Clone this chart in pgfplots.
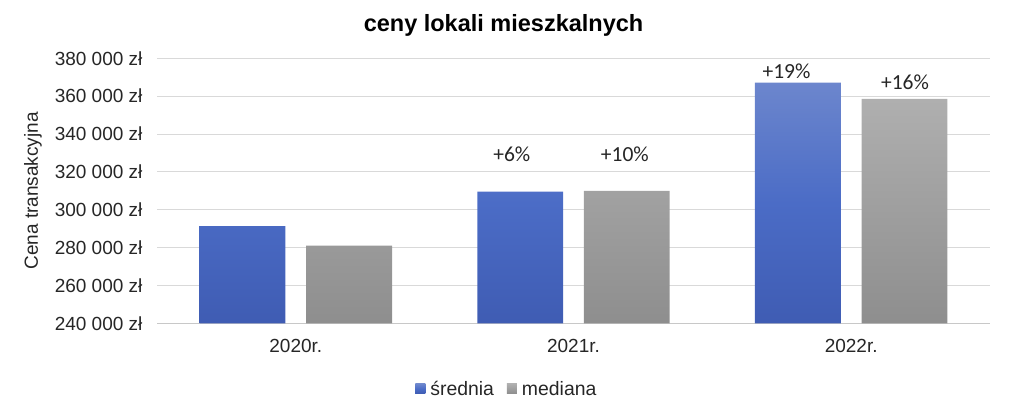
\documentclass[border=0pt]{standalone}
\usepackage{pgfplots}
\pgfplotsset{compat=1.18}
\usepackage{fontspec}
\setmainfont{Liberation Sans}
\newfontfamily\labfont{Carlito}
\definecolor{blueTop}{HTML}{6C86CD}
\definecolor{blueMid}{HTML}{4B6CC6}
\definecolor{blueBot}{HTML}{3F5CB3}
\definecolor{grayTop}{HTML}{AFAFAF}
\definecolor{grayBot}{HTML}{8E8E8E}
\definecolor{gridc}{HTML}{D9D9D9}
\definecolor{axisc}{HTML}{C8C8C8}
\definecolor{txt}{HTML}{262626}
\begin{document}
\begin{tikzpicture}[x=1pt,y=1pt]
\useasboundingbox (0,0) rectangle (1024,403);
\begin{axis}[
  at={(157pt,79.7pt)}, anchor=south west,
  width=833pt, height=265pt, scale only axis,
  xmin=-0.5, xmax=2.5, ymin=240000, ymax=380000,
  scaled y ticks=false,
  xtick={0,1,2}, xticklabels={2020r.,2021r.,2022r.},
  ytick={240000,260000,280000,300000,320000,340000,360000,380000},
  yticklabels={240 000 zł,260 000 zł,280 000 zł,300 000 zł,320 000 zł,340 000 zł,360 000 zł,380 000 zł},
  major tick length=0pt,
  axis x line*=bottom, axis y line*=left,
  y axis line style={draw=none},
  x axis line style={draw=axisc, line width=1.3pt},
  ymajorgrids, grid style={gridc, line width=0.9pt},
  tick label style={font=\fontsize{19}{22}\selectfont, text=txt},
  yticklabel style={anchor=east, xshift=-11pt},
  xticklabel style={anchor=center, yshift=-23pt},
  ylabel={Cena transakcyjna},
  ylabel style={at={(axis description cs:-0.1489,0.5)}, anchor=center, font=\fontsize{19}{22}\selectfont, text=txt},
  title={\textbf{ceny lokali mieszkalnych}},
  title style={at={(axis description cs:0.416,1)}, anchor=center, yshift=27pt, font=\fontsize{23.5}{26}\selectfont},
  legend style={at={(axis description cs:0.420,-0.247)}, anchor=center, legend columns=2, draw=none, fill=none,
    font=\fontsize{19.4}{22}\selectfont, text=txt, inner xsep=0pt,
    /tikz/every even column/.append style={column sep=11pt}},
  clip=false,
]
\addplot[ybar, bar width=0.309, bar shift=-0.192, draw=none, top color=blueTop, bottom color=blueBot, middle color=blueMid,
  legend image code/.code={\fill[blueMid] (0pt,-4.8pt) rectangle (10pt,4.8pt);\path (13pt,0pt);}]
  coordinates {(0,291400) (1,309500) (2,367100)};
\addlegendentry{średnia}
\addplot[ybar, bar width=0.309, bar shift=0.192, draw=none, top color=grayTop, bottom color=grayBot,
  legend image code/.code={\fill[grayTop!60!grayBot] (0pt,-4.8pt) rectangle (10pt,4.8pt);\path (13pt,0pt);}]
  coordinates {(0,281000) (1,310000) (2,358500)};
\addlegendentry{mediana}
\node[font=\labfont\fontsize{21.5}{24}\selectfont, text=txt] at (axis cs:0.778,329400) {+6\%};
\node[font=\labfont\fontsize{21.5}{24}\selectfont, text=txt] at (axis cs:1.185,329400) {+10\%};
\node[font=\labfont\fontsize{21.5}{24}\selectfont, text=txt] at (axis cs:1.767,372900) {+19\%};
\node[font=\labfont\fontsize{21.5}{24}\selectfont, text=txt] at (axis cs:2.194,367300) {+16\%};
\end{axis}
\end{tikzpicture}
\end{document}
